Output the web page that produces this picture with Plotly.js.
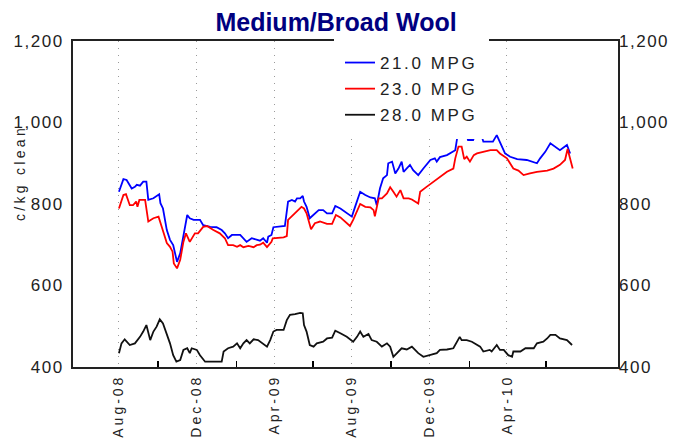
<!DOCTYPE html>
<html>
<head>
<meta charset="utf-8">
<script src="https://cdn.plot.ly/plotly-3.0.1.min.js"></script>
<style>
html,body{margin:0;padding:0;background:#fff;}
#chart{width:683px;height:439px;}
.xtick text{letter-spacing:3px;}
.ytick text,.y2tick text{letter-spacing:1.5px;}
.legendtext{letter-spacing:2.6px;}
.annotation-text{letter-spacing:3.3px;}
</style>
</head>
<body>
<div id="chart"></div>
<script>
// ---- data ----
const seriesNames = ["21.0 MPG", "23.0 MPG", "28.0 MPG"];

const blueDates = ["2008-08-01","2008-08-08","2008-08-13","2008-08-21","2008-08-26","2008-08-29","2008-09-03","2008-09-08","2008-09-13","2008-09-16","2008-09-24","2008-09-29","2008-10-03","2008-10-05","2008-10-09","2008-10-15","2008-10-20","2008-10-25","2008-10-28","2008-10-31","2008-11-05","2008-11-10","2008-11-16","2008-11-20","2008-11-26","2008-12-06","2008-12-11","2008-12-22","2009-01-01","2009-01-09","2009-01-14","2009-01-19","2009-01-25","2009-02-07","2009-02-12","2009-02-17","2009-02-25","2009-03-05","2009-03-10","2009-03-15","2009-03-21","2009-03-23","2009-03-28","2009-03-31","2009-04-13","2009-04-18","2009-04-23","2009-04-29","2009-05-04","2009-05-07","2009-05-12","2009-05-16","2009-05-18","2009-05-22","2009-05-27","2009-06-02","2009-06-10","2009-06-17","2009-06-23","2009-07-01","2009-07-06","2009-07-14","2009-07-24","2009-08-01","2009-08-06","2009-08-14","2009-08-22","2009-08-30","2009-09-06","2009-09-09","2009-09-14","2009-09-19","2009-09-25","2009-09-27","2009-10-03","2009-10-08","2009-10-13","2009-10-18","2009-10-21","2009-10-26","2009-10-31","2009-11-05","2009-11-13","2009-11-21","2009-12-02","2009-12-09","2009-12-12","2009-12-17","2009-12-28","2010-01-10","2010-01-13","2010-01-19","2010-01-27","2010-01-30","2010-02-07","2010-02-10","2010-02-18","2010-02-23","2010-03-10","2010-03-16","2010-03-21","2010-03-29","2010-04-06","2010-04-17","2010-05-02","2010-05-18","2010-05-23","2010-05-31","2010-06-08","2010-06-16","2010-06-23","2010-07-04","2010-07-09"];
const blueVals = [830,861,859,838,842,847,845,855,855,810,814,820,824,802,789,736,712,699,679,658,679,724,773,765,761,761,748,744,743,736,728,716,724,724,716,707,716,713,710,716,705,720,724,743,746,746,806,810,806,814,814,820,806,793,765,773,785,785,777,777,795,789,779,769,793,830,822,816,814,797,838,863,871,900,904,875,887,904,879,887,896,883,871,887,908,912,904,915,920,932,962,985,975,957,957,970,980,953,953,969,953,924,916,910,908,900,912,928,949,941,932,945,924];

const redDates = ["2008-08-01","2008-08-08","2008-08-12","2008-08-18","2008-08-23","2008-08-28","2008-08-30","2008-09-02","2008-09-11","2008-09-16","2008-09-24","2008-10-02","2008-10-07","2008-10-15","2008-10-20","2008-10-24","2008-10-26","2008-10-31","2008-11-05","2008-11-10","2008-11-14","2008-11-20","2008-11-28","2008-12-03","2008-12-11","2008-12-17","2008-12-27","2009-01-06","2009-01-14","2009-01-19","2009-01-27","2009-02-02","2009-02-07","2009-02-12","2009-02-20","2009-02-28","2009-03-05","2009-03-10","2009-03-15","2009-03-21","2009-03-28","2009-03-30","2009-04-16","2009-04-21","2009-04-23","2009-05-01","2009-05-09","2009-05-14","2009-05-18","2009-05-22","2009-05-29","2009-06-04","2009-06-12","2009-06-23","2009-07-01","2009-07-07","2009-07-14","2009-07-21","2009-07-29","2009-08-03","2009-08-14","2009-08-22","2009-08-30","2009-09-04","2009-09-06","2009-09-12","2009-09-17","2009-09-25","2009-09-30","2009-10-05","2009-10-10","2009-10-16","2009-10-21","2009-10-29","2009-11-03","2009-11-13","2009-11-16","2009-11-26","2009-12-07","2009-12-17","2009-12-28","2010-01-07","2010-01-10","2010-01-15","2010-01-20","2010-01-24","2010-01-28","2010-02-02","2010-02-08","2010-02-13","2010-02-23","2010-03-06","2010-03-16","2010-03-21","2010-04-01","2010-04-11","2010-04-19","2010-04-27","2010-05-07","2010-05-18","2010-06-03","2010-06-13","2010-06-23","2010-07-01","2010-07-05","2010-07-09","2010-07-13"];
const redVals = [789,822,824,797,797,806,793,810,810,757,765,769,744,704,695,683,654,642,663,707,728,707,728,728,744,746,736,728,716,699,699,695,699,694,697,694,699,700,705,694,707,716,718,721,761,773,785,793,789,777,738,753,757,751,751,773,767,757,746,761,800,793,792,785,770,814,814,826,841,830,818,834,814,814,811,801,830,842,855,867,879,887,912,941,941,910,916,904,920,924,928,932,932,924,912,887,882,871,875,879,882,887,896,908,935,912,887];

const blackDates = ["2008-08-01","2008-08-05","2008-08-10","2008-08-18","2008-08-26","2008-09-03","2008-09-08","2008-09-13","2008-09-19","2008-09-24","2008-09-29","2008-10-04","2008-10-09","2008-10-15","2008-10-20","2008-10-25","2008-10-30","2008-11-05","2008-11-10","2008-11-16","2008-11-20","2008-11-23","2008-12-01","2008-12-06","2008-12-14","2009-01-09","2009-01-12","2009-01-19","2009-01-27","2009-02-02","2009-02-07","2009-02-12","2009-02-17","2009-02-22","2009-02-28","2009-03-07","2009-03-15","2009-03-21","2009-03-26","2009-03-31","2009-04-05","2009-04-16","2009-04-21","2009-04-26","2009-05-04","2009-05-12","2009-05-16","2009-05-18","2009-05-22","2009-05-27","2009-06-02","2009-06-07","2009-06-17","2009-06-23","2009-07-01","2009-07-06","2009-07-14","2009-07-24","2009-08-03","2009-08-09","2009-08-14","2009-08-19","2009-08-27","2009-09-01","2009-09-09","2009-09-17","2009-09-25","2009-09-30","2009-10-05","2009-10-10","2009-10-18","2009-10-26","2009-11-03","2009-11-08","2009-11-13","2009-11-21","2009-12-02","2009-12-12","2009-12-17","2009-12-28","2010-01-07","2010-01-13","2010-01-17","2010-01-20","2010-01-28","2010-02-05","2010-02-13","2010-02-18","2010-02-23","2010-03-05","2010-03-08","2010-03-16","2010-03-21","2010-03-27","2010-04-03","2010-04-09","2010-04-11","2010-04-22","2010-04-30","2010-05-13","2010-05-18","2010-05-28","2010-06-03","2010-06-08","2010-06-16","2010-06-23","2010-07-04","2010-07-12"];
const blackVals = [434,458,468,454,458,474,487,503,466,487,499,517,507,483,458,429,413,417,442,446,434,446,442,429,413,413,438,446,450,458,446,458,466,458,468,466,458,450,466,487,491,491,515,528,530,533,532,503,487,454,450,458,462,470,472,489,483,474,462,474,487,474,481,466,462,450,458,450,425,434,446,443,450,442,434,425,429,434,442,443,446,462,474,466,466,462,454,450,438,442,438,454,442,442,429,425,438,438,446,446,458,462,470,479,479,470,466,454];

const yTickVals = [400, 600, 800, 1000, 1200];
const labelTickDates = ["2008-08-01","2008-12-01","2009-04-01","2009-08-01","2009-12-01","2010-04-01"];
const labelTickText = ["Aug-08","Dec-08","Apr-09","Aug-09","Dec-09","Apr-10"];
const midTickDates = ["2008-10-01","2009-02-01","2009-06-01","2009-10-01","2010-02-01","2010-06-01"];

// ---- chart ----
const FONT = "Liberation Sans, Arial, sans-serif";
const traces = [
  {x: blueDates, y: blueVals, name: seriesNames[0], legendgroup: "a", type: "scatter", mode: "lines", line: {color: "#0000ff", width: 1.8}},
  {x: redDates, y: redVals, name: seriesNames[1], legendgroup: "b", type: "scatter", mode: "lines", line: {color: "#ff0000", width: 1.8}},
  {x: blackDates, y: blackVals, name: seriesNames[2], legendgroup: "c", type: "scatter", mode: "lines", line: {color: "#111111", width: 1.8}},
  {x: [blackDates[0]], y: [null], yaxis: "y2", showlegend: false, hoverinfo: "skip", mode: "lines"}
];

const layout = {
  width: 683, height: 439,
  margin: {l: 73, r: 65, t: 41, b: 72, pad: 0},
  paper_bgcolor: "#ffffff", plot_bgcolor: "#ffffff",
  font: {family: FONT, size: 17, color: "#222"},
  title: {text: "Medium/Broad Wool", font: {family: FONT, size: 25, color: "#000080", weight: "bold"},
          x: 0.492, xanchor: "center", xref: "container", y: 1 - 22/439, yanchor: "middle", yref: "container"},
  showlegend: true,
  legend: {x: (334 - 73) / 545, xanchor: "left", y: (367 - 39) / 326, yanchor: "top", bgcolor: "#ffffff",
           bordercolor: "#ffffff", borderwidth: 6,
           font: {family: FONT, size: 17, color: "#222"}, tracegroupgap: 1, itemclick: false},
  xaxis: {
    type: "date", range: ["2008-05-21", "2010-09-22"],
    tickmode: "array", tickvals: labelTickDates, ticktext: labelTickText, tickangle: -90,
    ticks: "", tickfont: {family: FONT, size: 14, color: "#222"},
    showgrid: true, gridcolor: "#9a9a9a", gridwidth: 1, griddash: "1px,6px",
    minor: {tickmode: "array", tickvals: midTickDates, ticks: "inside", ticklen: 6, tickwidth: 1.5, tickcolor: "#000", showgrid: false},
    showline: true, linecolor: "#222", linewidth: 2, mirror: true, zeroline: false, fixedrange: true
  },
  yaxis: {
    range: [400, 1200], tickmode: "array", tickvals: yTickVals, tickformat: ",", ticks: "", ticklabelstandoff: 4,
    showgrid: false, zeroline: false, showline: true, linecolor: "#222", linewidth: 2, mirror: true,
    tickfont: {family: FONT, size: 17, color: "#222"}, fixedrange: true
  },
  yaxis2: {
    overlaying: "y", side: "right", range: [400, 1200], tickmode: "array", tickvals: yTickVals, tickformat: ",",
    ticks: "", showgrid: false, zeroline: false, showline: false,
    tickfont: {family: FONT, size: 17, color: "#222"}, fixedrange: true
  },
  annotations: [{
    text: "c/kg clean", textangle: -90, showarrow: false,
    xref: "paper", yref: "paper", x: (19.5 - 73) / 545, y: (367 - 173.5) / 326,
    xanchor: "center", yanchor: "middle", font: {family: FONT, size: 14, color: "#222"}
  }]
};

Plotly.newPlot("chart", traces, layout, {staticPlot: true, displayModeBar: false});
</script>
</body>
</html>
